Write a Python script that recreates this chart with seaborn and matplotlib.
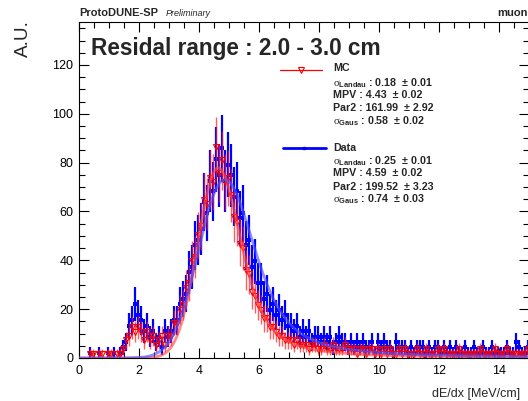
import numpy as np
import pandas as pd
import matplotlib
matplotlib.use("Agg")
import matplotlib.pyplot as plt
from matplotlib.lines import Line2D
import seaborn as sns

# ---------------- data ----------------
x_min, x_max, n_bins = 0.0, 15.0, 150

data_scale = 2.2   # A.U. per entry (data)
mc_scale = 1.8     # A.U. per entry (MC)

data_counts = [
    0,0,0,1,0,0,1,0,0,1,
    0,1,0,1,2,3,6,7,10,8,
    7,5,6,4,5,3,4,2,5,4,
    5,7,7,10,11,12,16,17,21,22,
    24,29,27,33,31,37,34,39,33,36,
    34,30,31,26,27,21,22,17,18,14,
    14,11,12,9,10,8,9,7,8,6,
    6,5,6,4,5,4,5,3,4,4,
    3,4,3,4,2,3,4,3,3,2,
    3,2,3,2,3,2,2,3,1,3,
    2,3,2,2,1,3,2,2,2,1,
    2,1,2,2,2,1,2,1,2,2,
    1,2,1,2,1,2,1,1,2,1,
    1,2,1,1,2,1,1,2,1,1,
    1,1,2,1,1,3,2,1,1,2,
]

mc_counts = [
    0,0,0,1,1,0,1,1,0,1,
    1,0,1,1,2,4,5,7,6,7,
    6,4,6,4,5,3,4,5,3,5,
    5,8,8,11,12,16,17,22,23,28,
    30,36,35,41,40,48,42,45,40,41,
    37,32,31,26,25,20,19,15,14,12,
    11,9,9,7,7,6,5,5,4,4,
    4,3,4,3,3,3,2,3,3,2,
    2,3,2,2,3,2,2,2,3,2,
    2,2,1,2,2,1,2,2,1,2,
    1,2,1,2,1,1,2,1,2,1,
    1,1,2,1,1,2,1,1,1,2,
    1,2,1,1,1,1,2,1,1,1,
    1,1,1,2,1,1,1,1,2,1,
    1,1,2,1,1,1,1,1,1,2,
]

# Landau-Gaussian fit parameters: [sigma_Landau, MPV, Par2 (area), sigma_Gaus]
mc_fit = [0.18, 4.43, 161.99, 0.58]
mc_fit_err = [0.01, 0.02, 2.92, 0.02]
data_fit = [0.25, 4.59, 199.52, 0.74]
data_fit_err = [0.01, 0.02, 3.23, 0.03]

title_text = "Residal range : 2.0 - 3.0 cm"
x_ticks = [0, 2, 4, 6, 8, 10, 12, 14]
y_ticks = [0, 20, 40, 60, 80, 100, 120]

# ---------------- helpers ----------------
def landau_table():
    lam = np.arange(-3.0, 95.0, 0.02)
    dt = 0.001
    t = np.arange(1, 40001) * dt
    w = np.exp(-t * np.log(t)) * np.sin(np.pi * t)
    out = np.empty_like(lam)
    step = 250
    for i in range(0, len(lam), step):
        l = lam[i:i + step]
        out[i:i + step] = (np.exp(-np.outer(l, t)) * w).sum(axis=1) * dt
    return lam, out / np.pi

LAM, PDF = landau_table()

def langau(x, sL, mpv, area, sG):
    mpc = mpv + 0.22278298 * sL
    dx = 0.002
    xx = np.arange(-5.0, 25.0, dx)
    fl = np.interp((xx - mpc) / sL, LAM, PDF, left=0.0, right=0.0) / sL
    n = int(round(5 * sG / dx))
    u = np.arange(-n, n + 1) * dx
    k = np.exp(-0.5 * (u / sG) ** 2) / (sG * np.sqrt(2 * np.pi))
    conv = np.convolve(fl, k, mode="same") * dx
    return area * np.interp(x, xx, conv)

# ---------------- style ----------------
sns.set_theme(style="ticks")
plt.rcParams["font.family"] = ["Liberation Sans", "DejaVu Sans"]
plt.rcParams["mathtext.fontset"] = "custom"
plt.rcParams["mathtext.rm"] = "Liberation Serif"
plt.rcParams["mathtext.it"] = "Liberation Serif:italic"
plt.rcParams["mathtext.bf"] = "Liberation Sans:bold"
plt.rcParams["axes.edgecolor"] = "black"
plt.rcParams["xtick.color"] = "black"
plt.rcParams["ytick.color"] = "black"

W, H = 528, 401
fig = plt.figure(figsize=(W / 100, H / 100), dpi=100)
fig.patch.set_facecolor("white")
ax = fig.add_axes([79 / W, 1 - 358 / H, 450 / W, 336 / H])
ax.set_facecolor("white")

edges = np.linspace(x_min, x_max, n_bins + 1)
centers = 0.5 * (edges[:-1] + edges[1:])

dc = np.array(data_counts, dtype=float)
mc = np.array(mc_counts, dtype=float)
df_data = pd.DataFrame({"x": centers, "y": dc * data_scale, "e": np.sqrt(dc) * data_scale})
df_mc = pd.DataFrame({"x": centers, "y": mc * mc_scale, "e": np.sqrt(mc) * mc_scale})
df_data = df_data[df_data["y"] > 0]
df_mc = df_mc[df_mc["y"] > 0]

# data histogram (blue)
ax.errorbar(df_data["x"], df_data["y"], yerr=df_data["e"], fmt="none",
            ecolor="#0000ff", elinewidth=1.6, capsize=0, zorder=2)
sns.scatterplot(data=df_data, x="x", y="y", ax=ax, color="#0000ff", s=7, marker="s",
                linewidth=0, zorder=3, legend=False)

# MC histogram (red)
ax.errorbar(df_mc["x"], df_mc["y"], yerr=df_mc["e"], fmt="none",
            ecolor=(1, 0.1, 0.1, 0.7), elinewidth=1.0, capsize=0, zorder=4)
ax.plot(df_mc["x"], df_mc["y"], linestyle="none", marker="v", ms=4.2,
        mfc="none", mec="#ff0000", mew=0.8, zorder=5)

# fit curves
xc = np.linspace(x_min, x_max, 1501)
df_fit = pd.DataFrame({"x": xc, "mc": langau(xc, *mc_fit), "data": langau(xc, *data_fit)})
sns.lineplot(data=df_fit, x="x", y="mc", ax=ax, color="#ff4848", lw=2.0, alpha=0.65,
             zorder=6, estimator=None)
sns.lineplot(data=df_fit, x="x", y="data", ax=ax, color="#5050ff", lw=2.0, alpha=0.65,
             zorder=7, estimator=None)

ax.set_xlim(x_min, x_max)
ax.set_ylim(0, 137.6)
ax.set_xticks(x_ticks)
ax.set_yticks(y_ticks)
ax.set_xticks(np.arange(0, 15.01, 0.5), minor=True)
ax.set_yticks(np.arange(0, 137, 5), minor=True)
ax.set_xlabel("")
ax.set_ylabel("")
for s in ax.spines.values():
    s.set_linewidth(0.8)
    s.set_color("black")
ax.tick_params(which="both", direction="in", top=True, right=True, width=0.8,
               colors="black", labelsize=9)
ax.tick_params(which="major", length=7)
ax.tick_params(which="minor", length=4)
ax.tick_params(axis="x", pad=5)
ax.tick_params(axis="y", pad=4)

def fx(px):
    return px / W

def fy(py):
    return 1 - py / H

# header / labels
fig.text(fx(79), fy(16.5), "ProtoDUNE-SP", fontsize=8, fontweight="bold", va="baseline")
fig.text(fx(166), fy(16.5), "Preliminary", fontsize=6.5, fontstyle="italic", va="baseline")
fig.text(fx(497), fy(16.5), "muon", fontsize=8, fontweight="bold", va="baseline")
fig.text(fx(91), fy(55), title_text, fontsize=16.3, fontweight="bold", va="baseline")
fig.text(fx(23), fy(20), "A.U.", fontsize=13.7, rotation=90, ha="center", va="top")
fig.text(fx(432), fy(396.5), "dE/dx [MeV/cm]", fontsize=9, va="baseline")

# legend (manual, ROOT-like)
fig.add_artist(Line2D([fx(280), fx(322)], [fy(70), fy(70)], color="#ff0000", lw=0.9))
fig.add_artist(Line2D([fx(301)], [fy(70)], marker="v", ms=4.2, mfc="none", mec="#ff0000",
                      mew=0.8, linestyle="none"))
fig.add_artist(Line2D([fx(283), fx(326)], [fy(148), fy(148)], color="#0000ff", lw=2.0))
fig.add_artist(Line2D([fx(304)], [fy(148)], marker="s", ms=2, color="#0000ff",
                      linestyle="none"))

def stat_lines(name, vals, errs, y0, ys):
    fig.text(fx(333), fy(y0), name, fontsize=7.7, fontweight="bold", va="baseline")
    labels = [r"$\mathrm{\sigma}_{\mathbf{Landau}}$", "MPV", "Par2",
              r"$\mathrm{\sigma}_{\mathbf{Gaus}}$"]
    for lab, v, e, yy in zip(labels, vals, errs, ys):
        fig.text(fx(333), fy(yy), f"{lab} : {v:.2f}  \u00b1 {e:.2f}", fontsize=7.7,
                 fontweight="bold", va="baseline")

stat_lines("MC", mc_fit, mc_fit_err, 71, [86, 97.7, 111, 124])
stat_lines("Data", data_fit, data_fit_err, 151, [165, 176, 189.5, 202])

fig.savefig("out.png", dpi=100)
